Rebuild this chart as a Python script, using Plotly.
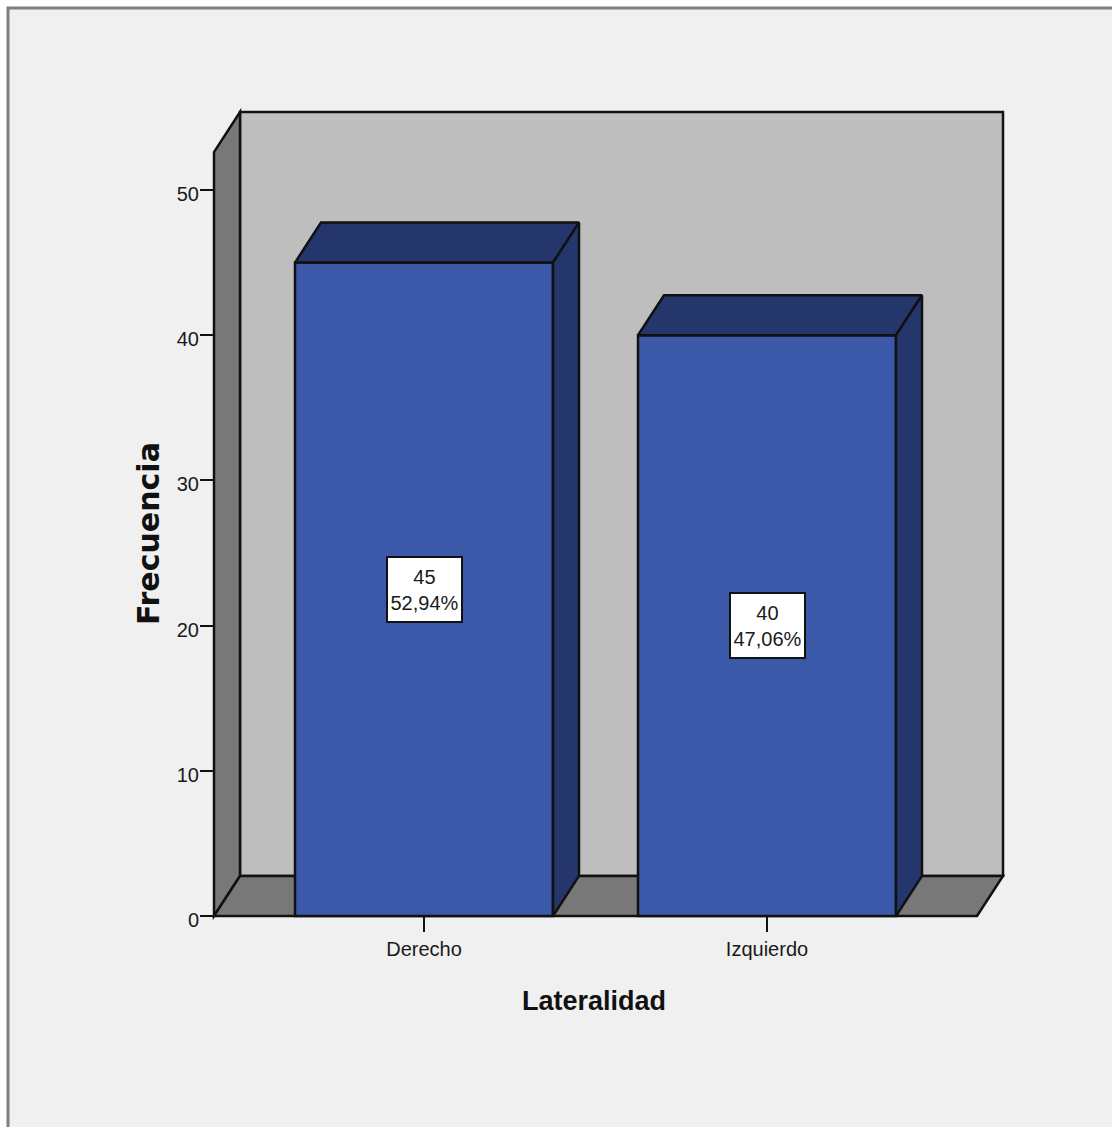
import plotly.graph_objects as go

# Chart data
categories = ["Derecho", "Izquierdo"]
frequencies = [45, 40]
percent_labels = ["52,94%", "47,06%"]
y_ticks = [0, 10, 20, 30, 40, 50]

# Scale of the axes and the oblique projection used for the 3D look
WIDTH, HEIGHT = 1112, 1127
PX_PER_CATEGORY = 343
PX_PER_UNIT = 14.52
ORIGIN_X, ORIGIN_Y = 424, 916      # page position of category 0, value 0
DEPTH_PX_X, DEPTH_PX_Y = 26, 40
DX = DEPTH_PX_X / PX_PER_CATEGORY
DY = DEPTH_PX_Y / PX_PER_UNIT
BAR_WIDTH = 258 / PX_PER_CATEGORY
X_LEFT = (214 - ORIGIN_X) / PX_PER_CATEGORY
X_RIGHT = (977 - ORIGIN_X) / PX_PER_CATEGORY
Y_TOP = (916 - 152) / PX_PER_UNIT
PAD = 5                            # room around the box so its outline is not clipped
OUTLINE = 2.5

FRONT = "#3C58A9"
SHADE = "#25366D"
BACK_WALL = "#BEBEBE"
SIDE_WALL = "#787878"
PANEL = "#F0F0F0"
INK = "#111111"
TEXT = "#1A1A1A"
SANS = "Liberation Sans, sans-serif"

plot_left = 214 - PAD
plot_right = 214 + (X_RIGHT + DX - X_LEFT) * PX_PER_CATEGORY + PAD
plot_top = 112 - PAD
plot_bottom = 916 + PAD
plot_w = plot_right - plot_left
plot_h = plot_bottom - plot_top


def paper_x(px):
    return (px - plot_left) / plot_w


def paper_y(px):
    return (plot_bottom - px) / plot_h


def polygon(points, fill):
    """SVG path for a shape given in axis units."""
    path = "M " + " L ".join(f"{x} {y}" for x, y in points) + " Z"
    return dict(type="path", path=path, xref="x", yref="y", layer="below",
                fillcolor=fill, line=dict(color=INK, width=OUTLINE))


box_shapes = [
    # panel behind the whole chart, open on the right and at the bottom of the page
    dict(type="rect", xref="paper", yref="paper", layer="below",
         x0=paper_x(8), x1=paper_x(WIDTH + 20),
         y0=paper_y(HEIGHT + 20), y1=paper_y(8),
         fillcolor=PANEL, line=dict(color="#7F7F7F", width=3)),
    polygon([(X_LEFT + DX, DY), (X_RIGHT + DX, DY), (X_RIGHT + DX, Y_TOP + DY),
             (X_LEFT + DX, Y_TOP + DY)], BACK_WALL),
    polygon([(X_LEFT, 0), (X_LEFT + DX, DY), (X_LEFT + DX, Y_TOP + DY), (X_LEFT, Y_TOP)],
            SIDE_WALL),
    polygon([(X_LEFT, 0), (X_RIGHT, 0), (X_RIGHT + DX, DY), (X_LEFT + DX, DY)], SIDE_WALL),
]

positions = list(range(len(categories)))
fig = go.Figure()

fig.add_trace(go.Bar(
    x=positions, y=frequencies, width=BAR_WIDTH, hoverinfo="skip",
    marker=dict(color=FRONT, line=dict(color=INK, width=OUTLINE)),
))

# Top and right faces of each bar
for pos, value in zip(positions, frequencies):
    x0, x1 = pos - BAR_WIDTH / 2, pos + BAR_WIDTH / 2
    fig.add_trace(go.Scatter(
        x=[x0, x1, x1 + DX, x0 + DX, x0], y=[value, value, value + DY, value + DY, value],
        mode="lines", fill="toself", fillcolor=SHADE, hoverinfo="skip",
        line=dict(color=INK, width=OUTLINE), showlegend=False,
    ))
    fig.add_trace(go.Scatter(
        x=[x1, x1 + DX, x1 + DX, x1, x1], y=[0, DY, value + DY, value, 0],
        mode="lines", fill="toself", fillcolor=SHADE, hoverinfo="skip",
        line=dict(color=INK, width=OUTLINE), showlegend=False,
    ))

# Value labels in the middle of each bar
annotations = [
    dict(x=pos, y=value / 2, xref="x", yref="y", text=f"{value}<br>{pct}",
         showarrow=False, bgcolor="white", bordercolor=INK, borderwidth=2,
         width=71, height=61, align="center", valign="middle",
         font=dict(family=SANS, size=20, color=TEXT))
    for pos, value, pct in zip(positions, frequencies, percent_labels)
]

# Axis titles, placed by hand so they can sit off the centre of the plot box
annotations += [
    dict(x=paper_x(594), y=paper_y(1001), xref="paper", yref="paper",
         xanchor="center", yanchor="middle",
         text="<b>Lateralidad</b>", showarrow=False,
         font=dict(family=SANS, size=27, color=INK)),
    dict(x=paper_x(148), y=paper_y(534), xref="paper", yref="paper",
         xanchor="center", yanchor="middle",
         text="<b>Frecuencia</b>", showarrow=False, textangle=-90,
         font=dict(family="DejaVu Sans", size=30, color=INK)),
]

fig.update_layout(
    width=WIDTH, height=HEIGHT, autosize=False, showlegend=False,
    paper_bgcolor="white", plot_bgcolor="rgba(0,0,0,0)",
    margin=dict(l=plot_left, r=WIDTH - plot_right, t=plot_top, b=HEIGHT - plot_bottom,
                autoexpand=False),
    shapes=box_shapes, annotations=annotations,
    xaxis=dict(
        range=[X_LEFT - PAD / PX_PER_CATEGORY, X_RIGHT + DX + PAD / PX_PER_CATEGORY],
        tickvals=positions, ticktext=categories, ticks="outside", ticklen=15,
        tickwidth=2, tickcolor=INK, showgrid=False, zeroline=False, showline=False,
        anchor="free", position=PAD / plot_h, ticklabelstandoff=0,
        tickfont=dict(family=SANS, size=20, color=TEXT),
    ),
    yaxis=dict(
        range=[-PAD / PX_PER_UNIT, Y_TOP + DY + PAD / PX_PER_UNIT],
        tickvals=y_ticks, ticks="outside", ticklen=14,
        tickwidth=2, tickcolor=INK, showgrid=False, zeroline=False, showline=False,
        anchor="free", position=PAD / plot_w, ticklabelstandoff=-3, ticklabelshift=4,
        tickfont=dict(family=SANS, size=20, color=TEXT),
    ),
)

fig.write_html("out.html")
